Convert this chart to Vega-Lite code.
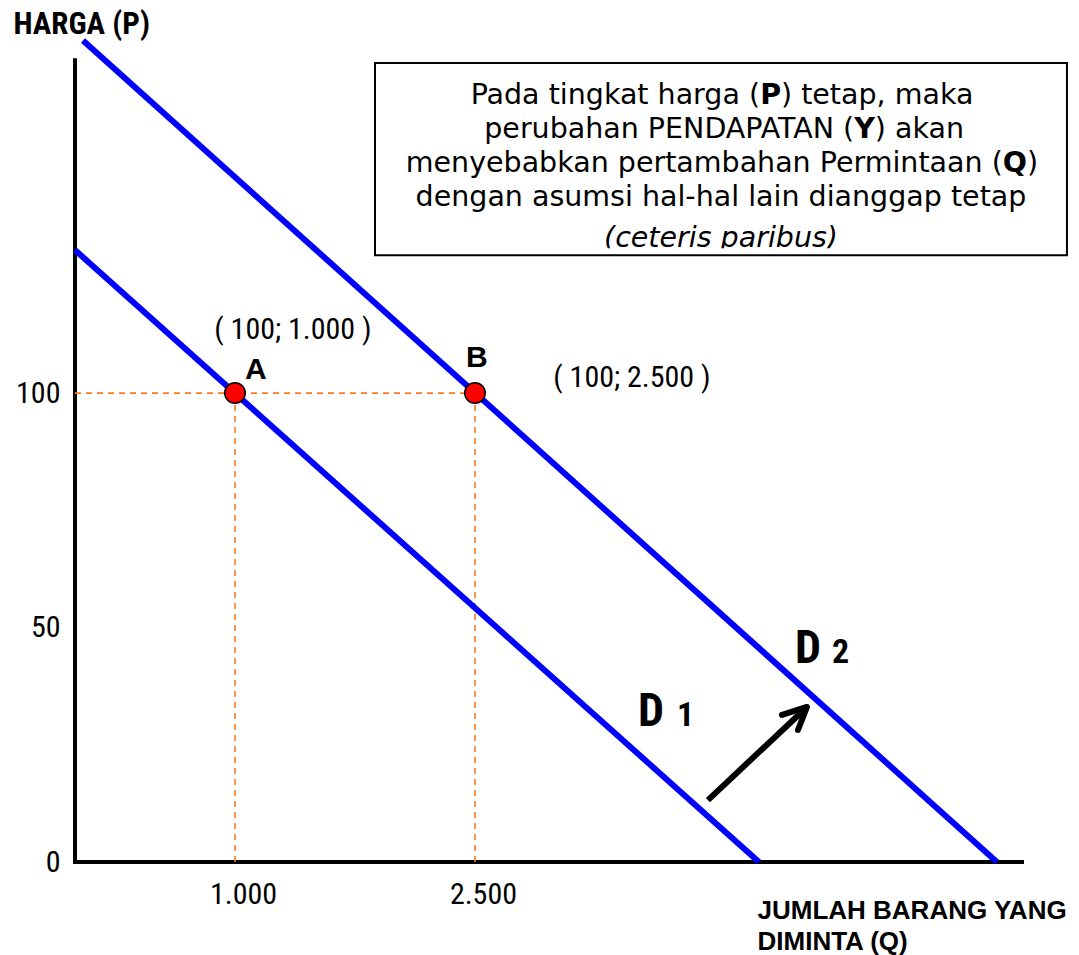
{
  "$schema": "https://vega.github.io/schema/vega-lite/v6.json",
  "width": 947,
  "height": 822,
  "autosize": "none",
  "padding": {"left": 75, "top": 40, "right": 57, "bottom": 93},
  "background": "white",
  "config": {"view": {"stroke": null}},
  "encoding": {
    "x": {
      "field": "q", "type": "quantitative",
      "scale": {"domain": [0, 5919], "nice": false, "zero": false},
      "axis": {
        "values": [1000, 2500],
        "labelExpr": "replace(format(datum.value, ','), ',', '.')",
        "labelFont": "Liberation Sans Narrow, Arial Narrow, Roboto Condensed, Liberation Sans",
        "labelFontSize": 30, "labelColor": "black",
        "labelBaseline": "alphabetic", "labelPadding": 41, "labelOffset": 8,
        "ticks": false, "domain": false, "grid": false,
        "title": ["JUMLAH BARANG YANG", "DIMINTA (Q)"],
        "titleFont": "Liberation Sans", "titleFontSize": 26, "titleFontWeight": "bold", "titleColor": "black",
        "titleAlign": "left", "titleBaseline": "alphabetic", "titleAnchor": "start",
        "titleX": 682, "titleY": 56, "titleLineHeight": 31
      }
    },
    "y": {
      "field": "p", "type": "quantitative",
      "scale": {"domain": [0, 175.3], "nice": false, "zero": false},
      "axis": {
        "values": [0, 50, 100],
        "labelFont": "Liberation Sans Narrow, Arial Narrow, Roboto Condensed, Liberation Sans",
        "labelFontSize": 30, "labelColor": "black", "labelPadding": 15,
        "ticks": false, "domain": false, "grid": false,
        "title": "HARGA (P)",
        "titleFont": "Liberation Sans Narrow, Arial Narrow, Roboto Condensed, Liberation Sans", "titleFontSize": 31, "titleFontWeight": "bold", "titleColor": "black",
        "titleAngle": 0, "titleAlign": "left", "titleBaseline": "alphabetic", "titleAnchor": "start",
        "titleX": -62, "titleY": -7
      }
    }
  },
  "layer": [
    {
      "data": {"values": [
        {"name": "sumbu P", "q": 0, "p": 0, "q2": 0, "p2": 171},
        {"name": "sumbu Q", "q": 0, "p": 0, "q2": 5919, "p2": 0}
      ]},
      "mark": {"type": "rule", "color": "black", "strokeWidth": 4, "strokeCap": "square"},
      "encoding": {"x2": {"field": "q2"}, "y2": {"field": "p2"}}
    },
    {
      "data": {"values": [
        {"name": "h", "q": 0, "p": 100, "q2": 2500, "p2": 100},
        {"name": "vA", "q": 1000, "p": 0, "q2": 1000, "p2": 100},
        {"name": "vB", "q": 2500, "p": 0, "q2": 2500, "p2": 100}
      ]},
      "mark": {"type": "rule", "color": "#ff7a1f", "strokeWidth": 1.6, "strokeDash": [6, 5]},
      "encoding": {"x2": {"field": "q2"}, "y2": {"field": "p2"}}
    },
    {
      "data": {"values": [
        {"kurva": "D1", "q": 0, "p": 130.5},
        {"kurva": "D1", "q": 4275, "p": 0},
        {"kurva": "D2", "q": 50, "p": 175.2},
        {"kurva": "D2", "q": 5762, "p": 0}
      ]},
      "mark": {"type": "line", "color": "#0000ff", "strokeWidth": 6, "strokeCap": "butt"},
      "encoding": {"detail": {"field": "kurva"}}
    },
    {
      "data": {"values": [
        {"titik": "A", "q": 1000, "p": 100},
        {"titik": "B", "q": 2500, "p": 100}
      ]},
      "mark": {"type": "point", "shape": "circle", "filled": true, "fill": "#ff0000", "stroke": "black", "strokeWidth": 1.5, "size": 420, "opacity": 1}
    },
    {
      "data": {"values": [
        {"q": 3956, "p": 13.2, "q2": 4575, "p2": 33.06}
      ]},
      "mark": {"type": "rule", "color": "black", "strokeWidth": 6, "strokeCap": "butt"},
      "encoding": {"x2": {"field": "q2"}, "y2": {"field": "p2"}}
    },
    {
      "data": {"values": [{"q": 4575, "p": 33.06}]},
      "mark": {"type": "point", "shape": "M -1 0.32 L 0 0 L -0.36 0.92", "filled": false, "stroke": "black", "strokeWidth": 6, "strokeCap": "round", "strokeJoin": "round", "size": 2500, "opacity": 1}
    },
    {
      "data": {"values": [{"q": 1875, "p": 170.4, "q2": 6200, "p2": 129.4}]},
      "mark": {"type": "rect", "fill": "white", "stroke": null},
      "encoding": {"x2": {"field": "q2"}, "y2": {"field": "p2"}}
    },
    {
      "data": {"values": [
        {"q": 4281.9, "p": 163.6, "teks": "Pada tingkat harga ("},
        {"q": 4870, "p": 156.3, "teks": "perubahan PENDAPATAN ("},
        {"q": 5798.8, "p": 149.1, "teks": "menyebabkan pertambahan Permintaan ("}
      ]},
      "mark": {"type": "text", "font": "DejaVu Sans", "fontSize": 28.5, "color": "black", "align": "right", "baseline": "middle"},
      "encoding": {"text": {"field": "teks"}}
    },
    {
      "data": {"values": [
        {"q": 4347.5, "p": 163.6, "teks": "P"},
        {"q": 4934.4, "p": 156.3, "teks": "Y"},
        {"q": 5874.4, "p": 149.1, "teks": "Q"}
      ]},
      "mark": {"type": "text", "font": "DejaVu Sans", "fontSize": 28.5, "fontWeight": "bold", "color": "black", "align": "center", "baseline": "middle"},
      "encoding": {"text": {"field": "teks"}}
    },
    {
      "data": {"values": [
        {"q": 4412.5, "p": 163.6, "teks": ") tetap, maka"},
        {"q": 4998.8, "p": 156.3, "teks": ") akan"},
        {"q": 5950, "p": 149.1, "teks": ")"}
      ]},
      "mark": {"type": "text", "font": "DejaVu Sans", "fontSize": 28.5, "color": "black", "align": "left", "baseline": "middle"},
      "encoding": {"text": {"field": "teks"}}
    },
    {
      "data": {"values": [
        {"q": 4037.5, "p": 141.8, "teks": "dengan asumsi hal-hal lain dianggap tetap"}
      ]},
      "mark": {"type": "text", "font": "DejaVu Sans", "fontSize": 28.5, "color": "black", "align": "center", "baseline": "middle"},
      "encoding": {"text": {"field": "teks"}}
    },
    {
      "data": {"values": [
        {"q": 4037.5, "p": 133.0, "teks": "(ceteris paribus)"}
      ]},
      "mark": {"type": "text", "font": "DejaVu Sans", "fontSize": 28.5, "fontStyle": "italic", "color": "black", "align": "center", "baseline": "middle"},
      "encoding": {"text": {"field": "teks"}}
    },
    {
      "data": {"values": [{"q": 1875, "p": 130.9, "q2": 6200, "p2": 129.4}]},
      "mark": {"type": "rect", "fill": "white", "stroke": null},
      "encoding": {"x2": {"field": "q2"}, "y2": {"field": "p2"}}
    },
    {
      "data": {"values": [{"q": 1875, "p": 170.4, "q2": 6200, "p2": 129.4}]},
      "mark": {"type": "rect", "fill": null, "fillOpacity": 0, "stroke": "black", "strokeWidth": 2},
      "encoding": {"x2": {"field": "q2"}, "y2": {"field": "p2"}}
    },
    {
      "data": {"values": [
        {"q": 1362, "p": 113.5, "teks": "( 100; 1.000 )"},
        {"q": 3481, "p": 103.2, "teks": "( 100; 2.500 )"}
      ]},
      "mark": {"type": "text", "font": "Liberation Sans Narrow, Arial Narrow, Roboto Condensed, Liberation Sans", "fontSize": 30, "color": "black", "align": "center", "baseline": "middle"},
      "encoding": {"text": {"field": "teks"}}
    },
    {
      "data": {"values": [
        {"q": 1131, "p": 104.9, "teks": "A"},
        {"q": 2512, "p": 107.5, "teks": "B"}
      ]},
      "mark": {"type": "text", "font": "Liberation Sans", "fontSize": 30, "fontWeight": "bold", "color": "black", "align": "center", "baseline": "middle"},
      "encoding": {"text": {"field": "teks"}}
    },
    {
      "data": {"values": [
        {"q": 3519, "p": 29.0, "teks": "D"},
        {"q": 4500, "p": 42.4, "teks": "D"}
      ]},
      "mark": {"type": "text", "font": "Liberation Sans Narrow, Arial Narrow, Roboto Condensed, Liberation Sans", "fontSize": 46, "fontWeight": "bold", "color": "black", "align": "left", "baseline": "alphabetic"},
      "encoding": {"text": {"field": "teks"}}
    },
    {
      "data": {"values": [
        {"q": 3762.5, "p": 29.0, "teks": "1"},
        {"q": 4731, "p": 42.4, "teks": "2"}
      ]},
      "mark": {"type": "text", "font": "Liberation Sans Narrow, Arial Narrow, Roboto Condensed, Liberation Sans", "fontSize": 34, "fontWeight": "bold", "color": "black", "align": "left", "baseline": "alphabetic"},
      "encoding": {"text": {"field": "teks"}}
    }
  ]
}
